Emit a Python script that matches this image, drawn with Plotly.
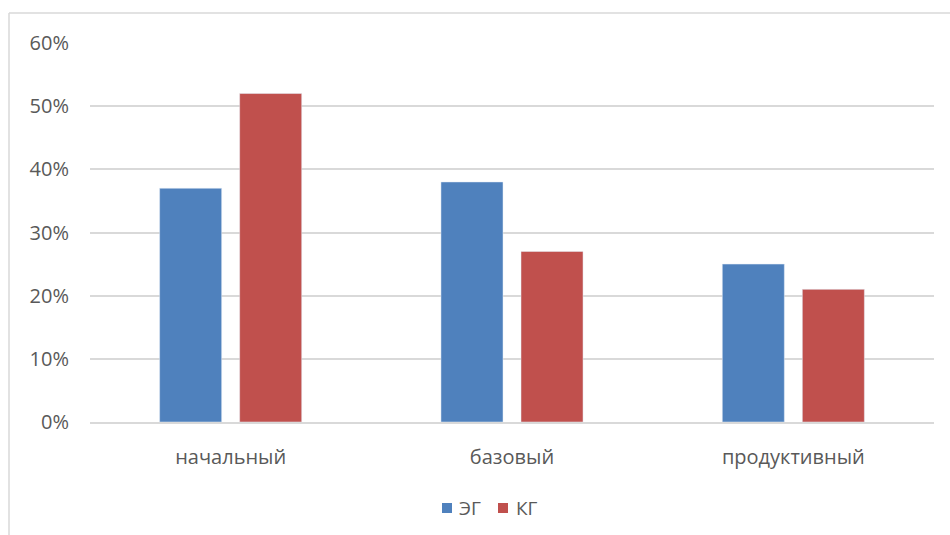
import plotly.graph_objects as go

categories = ["начальный", "базовый", "продуктивный"]
series_names = ["ЭГ", "КГ"]
eg_values = [0.37, 0.38, 0.25]
kg_values = [0.52, 0.27, 0.21]
tick_vals = [0, 0.1, 0.2, 0.3, 0.4, 0.5, 0.6]
tick_text = ["0%", "10%", "20%", "30%", "40%", "50%", "60%"]

colors = ["#4F81BD", "#C0504D"]
W, H = 950, 535
L, R, T, B = 90, 16, 43, 113
pw, ph = W - L - R, H - T - B

def px_x(x):
    return (x - L) / pw

def px_y(y):
    return (H - B - y) / ph

fig = go.Figure()
fig.add_trace(go.Bar(name=series_names[0], x=categories, y=eg_values, marker_color=colors[0]))
fig.add_trace(go.Bar(name=series_names[1], x=categories, y=kg_values, marker_color=colors[1]))

font_family = "Open Sans, Liberation Sans, sans-serif"
text_color = "#595959"
grid = "#D9D9D9"

shapes = [
    dict(type="line", xref="paper", yref="paper", x0=px_x(9), x1=px_x(9), y0=px_y(13), y1=px_y(540),
         line=dict(color=grid, width=1.5)),
    dict(type="line", xref="paper", yref="paper", x0=px_x(9), x1=px_x(955), y0=px_y(13), y1=px_y(13),
         line=dict(color=grid, width=1.5)),
]
annotations = []
# custom legend
legend_items = [(442, 457), (498, 514)]
for (sx, tx), name, col in zip(legend_items, series_names, colors):
    shapes.append(dict(type="rect", xref="paper", yref="paper", x0=px_x(sx), x1=px_x(sx + 10),
                       y0=px_y(513), y1=px_y(503), fillcolor=col, line=dict(width=0)))
    annotations.append(dict(xref="paper", yref="paper", x=px_x(tx), y=px_y(508), xanchor="left",
                            yanchor="middle", text=name, showarrow=False,
                            font=dict(size=19, color=text_color, family=font_family)))

fig.update_layout(
    width=W, height=H,
    margin=dict(l=L, r=R, t=T, b=B),
    paper_bgcolor="white", plot_bgcolor="white",
    barmode="group", bargap=0.431, bargroupgap=0.225,
    font=dict(family=font_family, size=20, color=text_color),
    showlegend=False,
    xaxis=dict(showgrid=False, showline=True, linecolor=grid, linewidth=1.5,
               ticks="", ticklabelstandoff=16, tickfont=dict(size=20)),
    yaxis=dict(range=[0, 0.6], tickvals=tick_vals, ticktext=tick_text, showgrid=True,
               gridcolor=grid, gridwidth=1.5, zeroline=False, showline=False,
               ticks="", ticklabelstandoff=20, tickfont=dict(size=20)),
    shapes=shapes,
    annotations=annotations,
)

fig.write_html("out.html", config={"displayModeBar": False},
               post_script="document.body.style.margin='0px';")
